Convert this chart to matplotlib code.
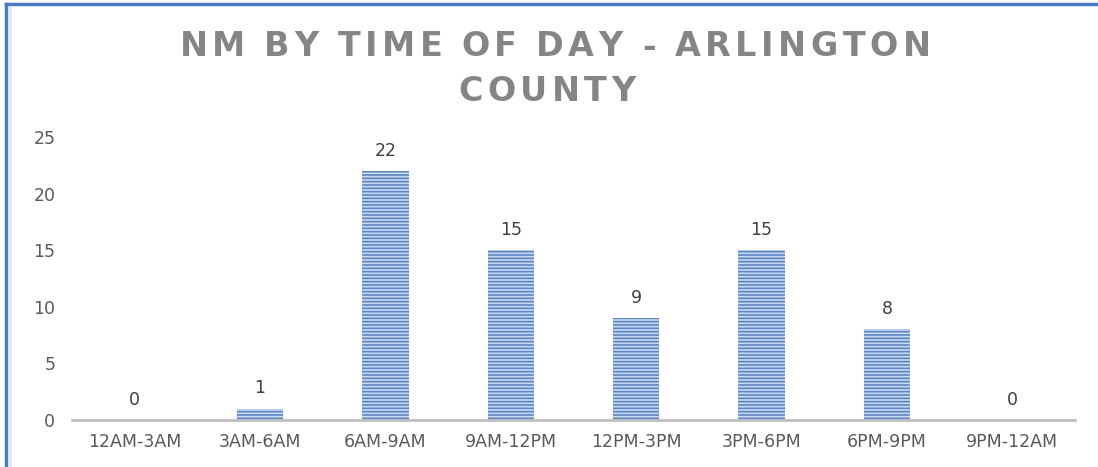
import numpy as np
import matplotlib.pyplot as plt
from matplotlib.lines import Line2D

categories = ['12AM-3AM', '3AM-6AM', '6AM-9AM', '9AM-12PM', '12PM-3PM', '3PM-6PM', '6PM-9PM', '9PM-12AM']
counts = [0, 1, 22, 15, 9, 15, 8, 0]
yticks = [0, 5, 10, 15, 20, 25]
title_lines = ['NM BY TIME OF DAY - ARLINGTON', 'COUNTY']

plt.rcParams['font.family'] = ['DejaVu Sans']
plt.rcParams['hatch.linewidth'] = 1.2

fig = plt.figure(figsize=(10.98, 4.67), dpi=100)
ax = fig.add_axes([0.0656, 0.1006, 0.9134, 0.606])

x = np.arange(len(categories))
ax.bar(x, counts, width=0.37, color='#c9d9ef', edgecolor='#5a86c5',
       hatch='-----', linewidth=0)

for xi, c in zip(x, counts):
    ax.text(xi, c + 1.0, str(c), ha='center', va='bottom', fontsize=12.5, color='#404040')

ax.set_xlim(-0.5, len(categories) - 0.5)
ax.set_ylim(0, 25)
ax.set_yticks(yticks)
ax.set_xticks(x)
ax.set_xticklabels(categories)
ax.tick_params(axis='both', length=0, labelsize=12.5, labelcolor='#595959')
ax.tick_params(axis='x', pad=9)
ax.tick_params(axis='y', pad=12)

for s in ['top', 'right', 'left']:
    ax.spines[s].set_visible(False)
ax.spines['bottom'].set_color('#bfbfbf')
ax.spines['bottom'].set_linewidth(2)


# title with wide letter spacing, placed character by character
def tracked_text(s, xc_px, y_px, gap, **kw):
    renderer = fig.canvas.get_renderer()
    H = fig.bbox.height
    W = fig.bbox.width
    widths = []
    for ch in s:
        if ch == ' ':
            widths.append(None)
            continue
        t = fig.text(0, 0, ch, **kw)
        widths.append(t.get_window_extent(renderer).width)
        t.remove()
    space_w = 0.3 * kw['fontsize'] * 100 / 72
    widths = [space_w if w is None else w for w in widths]
    total = sum(widths) + gap * (len(s) - 1)
    xpos = xc_px - total / 2
    for ch, w in zip(s, widths):
        if ch != ' ':
            fig.text(xpos / W, 1 - y_px / H, ch, ha='left', va='center', **kw)
        xpos += w + gap


title_kw = dict(fontsize=24, fontweight='bold', color='#858585')
tracked_text(title_lines[0], 555, 47, 4.5, **title_kw)
tracked_text(title_lines[1], 547, 92, 4.5, **title_kw)

# chart frame (left and top edges visible)
fig.lines.append(Line2D([0.0055, 0.0055], [0, 0.992], transform=fig.transFigure,
                        color='#4a7cc4', linewidth=2.5))
fig.lines.append(Line2D([0.0055, 1], [0.992, 0.992], transform=fig.transFigure,
                        color='#4a7cc4', linewidth=2.5))
fig.lines.append(Line2D([0.009, 0.009], [0, 0.985], transform=fig.transFigure,
                        color='#e6e6e6', linewidth=2))

fig.savefig('out.png', dpi=100)
